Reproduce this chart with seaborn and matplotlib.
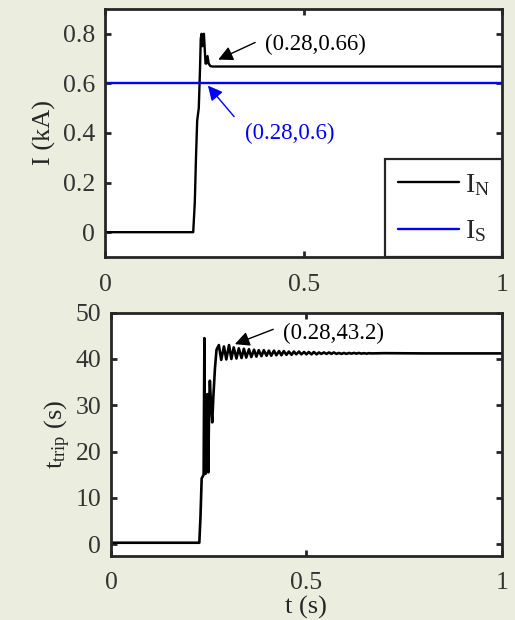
import numpy as np
import pandas as pd
import matplotlib
matplotlib.use('Agg')
import matplotlib.pyplot as plt
import seaborn as sns

# Data
t_in = [0.0, 0.222, 0.226, 0.229, 0.232, 0.236, 0.239, 0.241, 0.243, 0.245,
        0.247, 0.249, 0.251, 0.253, 0.255, 0.258, 0.261, 0.265, 0.270, 0.30, 0.50, 0.75, 1.0]
i_n = [0.0, 0.0, 0.12, 0.30, 0.45, 0.50, 0.65, 0.78, 0.80, 0.75,
       0.78, 0.80, 0.74, 0.68, 0.68, 0.71, 0.68, 0.67, 0.668, 0.668, 0.668, 0.668, 0.668]
t_is = [0.0, 1.0]
i_s = [0.6, 0.6]

t_trip_t = [0.0, 0.226, 0.229, 0.232, 0.234, 0.237, 0.239, 0.240, 0.242, 0.244,
            0.246, 0.248, 0.249, 0.251, 0.253, 0.256, 0.259, 0.262, 0.266, 0.270,
            0.276, 0.282, 0.289, 0.295, 0.302, 0.308, 0.314, 0.321, 0.327, 0.334,
            0.340, 0.346, 0.353, 0.359, 0.366, 0.372, 0.378, 0.385, 0.391, 0.398,
            0.404, 0.410, 0.417, 0.423, 0.430, 0.436, 0.442, 0.449, 0.455, 0.462,
            0.468, 0.474, 0.481, 0.487, 0.494, 0.500, 0.506, 0.513, 0.519, 0.526,
            0.532, 0.538, 0.545, 0.551, 0.558, 0.564, 0.570, 0.577, 0.583, 0.590,
            0.596, 0.602, 0.609, 0.615, 0.622, 0.628, 0.634, 0.641, 0.647, 0.654,
            0.660, 0.666, 0.70, 0.80, 0.90, 1.0]
t_trip = [0.3, 0.3, 6.0, 14.2, 14.5, 15.0, 44.5, 22.0, 15.2, 18.0,
          32.4, 20.0, 15.5, 30.0, 35.3, 30.0, 26.3, 32.0, 38.0, 42.0,
          43.0, 39.8, 42.7, 39.9, 43.0, 40.0, 42.5, 40.1, 42.3, 40.2,
          42.2, 40.3, 42.1, 40.4, 42.0, 40.5, 41.9, 40.6, 41.9, 40.7,
          41.8, 40.7, 41.8, 40.8, 41.7, 40.8, 41.7, 40.9, 41.6, 40.9,
          41.6, 41.0, 41.6, 41.0, 41.5, 41.0, 41.5, 41.0, 41.5, 41.0,
          41.4, 41.1, 41.4, 41.1, 41.4, 41.1, 41.4, 41.1, 41.3, 41.1,
          41.3, 41.1, 41.3, 41.15, 41.3, 41.15, 41.3, 41.15, 41.25, 41.15,
          41.25, 41.2, 41.25, 41.2, 41.2, 41.2]

bg = '#ebeedf'
dark = '#262626'

sns.set_theme(style='white')
plt.rcParams['font.family'] = ['Liberation Serif', 'DejaVu Serif']
plt.rcParams['mathtext.fontset'] = 'custom'
plt.rcParams['mathtext.rm'] = 'Liberation Serif'
plt.rcParams['mathtext.it'] = 'Liberation Serif'

fig = plt.figure(figsize=(5.15, 6.2), dpi=100, facecolor=bg)
ax1 = fig.add_axes([0.204, 0.5855, 0.771, 0.40])
ax2 = fig.add_axes([0.2155, 0.1037, 0.759, 0.392])

# top panel
sns.lineplot(x=t_in, y=i_n, ax=ax1, color='black', lw=1.7, estimator=None, sort=False,
             label=r'$\mathrm{I_N}$')
sns.lineplot(x=t_is, y=i_s, ax=ax1, color='#0000ff', lw=1.7, estimator=None, sort=False,
             label=r'$\mathrm{I_S}$')
ax1.set_xlim(0, 1)
ax1.set_ylim(-0.1, 0.9)
ax1.set_yticks([0, 0.2, 0.4, 0.6, 0.8])
ax1.set_yticklabels(['0', '0.2', '0.4', '0.6', '0.8'])
ax1.set_xticks([0, 0.5, 1])
ax1.set_xticklabels(['0', '0.5', '1'])
ax1.set_ylabel('I (kA)', fontsize=19, color=dark, labelpad=5)

leg = ax1.legend(loc='lower right', borderaxespad=0, fontsize=20, fancybox=False,
                 handlelength=2.2, frameon=True, framealpha=1, borderpad=0.45,
                 labelspacing=0.75, handletextpad=0.2)
leg.get_frame().set_edgecolor(dark)
leg.get_frame().set_linewidth(1.6)

ax1.annotate('', xy=(0.285, 0.696), xytext=(0.378, 0.765),
             arrowprops=dict(arrowstyle='-|>', color='black', lw=1.0, mutation_scale=22,
                             shrinkA=0, shrinkB=0))
ax1.text(0.403, 0.757, '(0.28,0.66)', fontsize=16.5, color='black', ha='left', va='center')
ax1.annotate('', xy=(0.259, 0.591), xytext=(0.325, 0.466),
             arrowprops=dict(arrowstyle='-|>', color='#0000ff', lw=1.0, mutation_scale=22,
                             shrinkA=0, shrinkB=0))
ax1.text(0.466, 0.40, '(0.28,0.6)', fontsize=16.5, color='#0000ff', ha='center', va='center')

# bottom panel
sns.lineplot(x=t_trip_t, y=t_trip, ax=ax2, color='black', lw=1.9, estimator=None, sort=False)
ax2.set_xlim(0, 1)
ax2.set_ylim(-2.5, 50)
ax2.set_yticks([0, 10, 20, 30, 40, 50])
ax2.set_xticks([0, 0.5, 1])
ax2.set_xticklabels(['0', '0.5', '1'])
ax2.set_ylabel(r'$\mathrm{t_{trip}}$ (s)', fontsize=19, color=dark, labelpad=2)
ax2.set_xlabel('t (s)', fontsize=19, color=dark, labelpad=1)

ax2.annotate('', xy=(0.317, 43.2), xytext=(0.415, 46.4),
             arrowprops=dict(arrowstyle='-|>', color='black', lw=1.0, mutation_scale=22,
                             shrinkA=0, shrinkB=0))
ax2.text(0.44, 45.6, '(0.28,43.2)', fontsize=16.5, color='black', ha='left', va='center')

for ax in (ax1, ax2):
    ax.set_facecolor('white')
    for s in ax.spines.values():
        s.set_color(dark)
        s.set_linewidth(2.0)
        s.set_visible(True)
    ax.tick_params(direction='in', length=4, width=2, color=dark, labelcolor='#333333',
                   labelsize=18.5, top=True, right=True, bottom=True, left=True)
    ax.tick_params(axis='x', pad=12)
    ax.tick_params(axis='y', pad=7)

fig.savefig('out.png', dpi=100, facecolor=bg)
